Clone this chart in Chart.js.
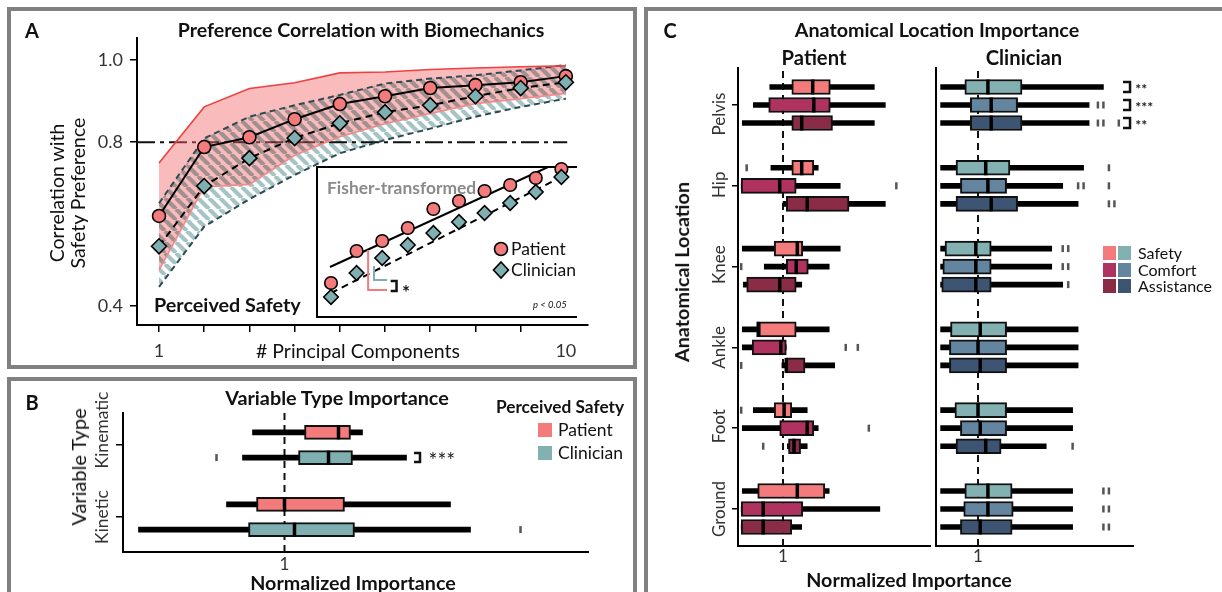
<!DOCTYPE html>
<html>
<head>
<meta charset="utf-8">
<script src="https://cdn.jsdelivr.net/npm/chart.js@4.4.1/dist/chart.umd.min.js"></script>
<style>
  html, body { margin: 0; padding: 0; background: #fff; }
  #page { position: relative; width: 1222px; height: 592px; overflow: hidden; font-family: Lato, sans-serif; color: #111; }
  #page canvas { position: absolute; left: 0; top: 0; }
  .frame { position: absolute; border: 4px solid #808080; box-sizing: border-box; }
  .t { position: absolute; white-space: nowrap; line-height: 1; transform: translate(-50%, -50%); }
  .tl { transform: translate(0, -50%); }
  .rot { transform: translate(-50%, -50%) rotate(-90deg); }
  .b { font-weight: 700; }
  .i { font-style: italic; }
  .sw { position: absolute; }
</style>
</head>
<body>
<div id="page">
  <div class="frame" style="left:7px;top:7px;width:630px;height:362px"></div>
  <div class="frame" style="left:7px;top:377px;width:630px;height:260px"></div>
  <div class="frame" style="left:644px;top:7px;width:600px;height:620px"></div>

  <div id="labels">
    <!-- panel A -->
    <div class="t b" style="left:32px;top:30px;font-size:20px">A</div>
    <div class="t b" style="left:361px;top:30px;font-size:19.6px">Preference Correlation with Biomechanics</div>
    <div class="t rot" style="left:57px;top:193px;font-size:19.5px">Correlation with</div>
    <div class="t rot" style="left:78px;top:193px;font-size:19.5px">Safety Preference</div>
    <div class="t" style="left:358px;top:351px;font-size:19.5px"># Principal Components</div>
    <div class="t tl b" style="left:154px;top:305px;font-size:19.8px">Perceived Safety</div>
    <div class="t tl b" style="left:327px;top:188px;font-size:17.4px;color:#8a8a8a">Fisher-transformed</div>
    <div class="t tl" style="left:511px;top:249px;font-size:17.5px">Patient</div>
    <div class="t tl" style="left:511px;top:270px;font-size:17.5px">Clinician</div>
    <div class="t tl i" style="left:533px;top:305px;font-size:9.5px">p &lt; 0.05</div>
    <div class="t b" style="left:406px;top:291px;font-size:19px">*</div>

    <!-- panel B -->
    <div class="t b" style="left:32px;top:402px;font-size:20px">B</div>
    <div class="t b" style="left:337px;top:398px;font-size:19.8px">Variable Type Importance</div>
    <div class="t rot" style="left:78px;top:467px;font-size:20px">Variable Type</div>
    <div class="t b" style="left:353px;top:583px;font-size:19.7px">Normalized Importance</div>
    <div class="t b" style="left:560px;top:407px;font-size:17.3px">Perceived Safety</div>
    <div class="sw" style="left:538px;top:423px;width:14px;height:14px;background:#F47B7B"></div>
    <div class="sw" style="left:538px;top:446px;width:14px;height:14px;background:#83B1B2"></div>
    <div class="t tl" style="left:558px;top:430px;font-size:17.5px">Patient</div>
    <div class="t tl" style="left:558px;top:453px;font-size:17.5px">Clinician</div>

    <!-- panel C -->
    <div class="t b" style="left:670px;top:30px;font-size:20px">C</div>
    <div class="t b" style="left:937px;top:30px;font-size:19.7px">Anatomical Location Importance</div>
    <div class="t b" style="left:814px;top:57px;font-size:20.2px">Patient</div>
    <div class="t b" style="left:1024px;top:57px;font-size:20.2px">Clinician</div>
    <div class="t rot b" style="left:682px;top:272px;font-size:19.8px">Anatomical Location</div>
    <div class="t b" style="left:909px;top:580px;font-size:19.7px">Normalized Importance</div>
    <div class="sw" style="left:1103px;top:246px;width:13px;height:14px;background:#F47B7B"></div>
    <div class="sw" style="left:1118px;top:246px;width:13px;height:14px;background:#83B1B2"></div>
    <div class="sw" style="left:1103px;top:263px;width:13px;height:14px;background:#B0325F"></div>
    <div class="sw" style="left:1118px;top:263px;width:13px;height:14px;background:#6385A0"></div>
    <div class="sw" style="left:1103px;top:279px;width:13px;height:14px;background:#8B2C47"></div>
    <div class="sw" style="left:1118px;top:279px;width:13px;height:14px;background:#3D5573"></div>
    <div class="t tl" style="left:1138px;top:253px;font-size:16px">Safety</div>
    <div class="t tl" style="left:1138px;top:270px;font-size:16px">Comfort</div>
    <div class="t tl" style="left:1138px;top:286px;font-size:16px">Assistance</div>
  </div>
</div>

<script>
// ---------- panel A: correlation vs number of principal components ----------
const PCS = [1, 2, 3, 4, 5, 6, 7, 8, 9, 10];
const patientCorr      = [0.620, 0.788, 0.812, 0.856, 0.893, 0.912, 0.932, 0.939, 0.946, 0.961];
const clinicianCorr    = [0.546, 0.693, 0.761, 0.810, 0.846, 0.873, 0.890, 0.912, 0.932, 0.946];
const patientCorrHigh  = [0.749, 0.886, 0.931, 0.945, 0.969, 0.971, 0.977, 0.981, 0.984, 0.986];
const patientCorrLow   = [0.488, 0.691, 0.697, 0.768, 0.813, 0.845, 0.870, 0.894, 0.906, 0.919];
const clinicianCorrHigh = [0.651, 0.809, 0.862, 0.890, 0.915, 0.943, 0.955, 0.963, 0.975, 0.988];
const clinicianCorrLow  = [0.447, 0.594, 0.661, 0.720, 0.773, 0.805, 0.833, 0.862, 0.886, 0.906];
const corrTicks = [0.4, 0.8, 1.0];
const corrLabelTicks = [1, 10];
const SAFETY_LEVEL = 0.8;
const SAFETY_LINE_END = 10.03;

// inset: Fisher-transformed correlations and fitted lines
const fisherPatient   = [0.84, 1.16, 1.26, 1.39, 1.58, 1.66, 1.76, 1.82, 1.89, 1.98];
const fisherClinician = [0.70, 0.94, 1.09, 1.22, 1.34, 1.45, 1.54, 1.64, 1.75, 1.90];
const fitPatientX = [0.96, 9.48],  fitPatientY = [1.00, 2.00];
const fitClinicianX = [1.0, 10.0], fitClinicianY = [0.74, 1.90];

// ---------- panel B: variable type importance ----------
const VAR_TYPES = ['Kinematic', 'Kinetic'];
const typeRowGroup = ['Patient', 'Clinician', 'Patient', 'Clinician'];
const typeLow  = [0.84, 0.79, 0.71, 0.27];
const typeQ1   = [1.10, 1.07, 0.86, 0.82];
const typeMed  = [1.27, 1.22, 1.00, 1.05];
const typeQ3   = [1.33, 1.34, 1.30, 1.35];
const typeHigh = [1.39, 1.61, 1.83, 1.93];
const typeOut  = [[], [0.66], [], [2.18]];

// ---------- panel C: anatomical location importance ----------
const LOCATIONS = ['Pelvis', 'Hip', 'Knee', 'Ankle', 'Foot', 'Ground'];
const MEASURES = ['Safety', 'Comfort', 'Assistance'];
// rows: location by location, Safety / Comfort / Assistance
const patLow  = [0.88, 0.73, 0.63,  0.89, 0.62, 1.00,  0.63, 0.83, 0.64,  0.63, 0.63, 0.99,  0.73, 0.63, 1.04,  0.63, 0.62, 0.62];
const patQ1   = [1.08, 0.87, 1.08,  1.08, 0.62, 1.03,  0.92, 1.03, 0.67,  0.76, 0.72, 1.03,  0.92, 0.97, 1.05,  0.77, 0.62, 0.62];
const patMed  = [1.27, 1.28, 1.17,  1.17, 0.97, 1.22,  1.13, 1.12, 0.97,  0.78, 0.98, 1.03,  1.01, 1.22, 1.10,  1.13, 0.82, 0.82];
const patQ3   = [1.43, 1.43, 1.45,  1.28, 1.12, 1.60,  1.18, 1.23, 1.12,  1.12, 1.03, 1.20,  1.08, 1.28, 1.16,  1.38, 1.18, 1.08];
const patHigh = [1.83, 1.93, 1.83,  1.32, 1.52, 1.93,  1.52, 1.42, 1.17,  1.42, 1.03, 1.47,  1.22, 1.32, 1.22,  1.42, 1.88, 1.17];
const patOut  = [[], [], [],  [0.67], [2.03], [],  [], [0.62], [],  [], [1.57, 1.68], [0.62],  [0.62], [1.78], [0.82],  [], [], []];

const clinLow  = [0.66, 0.66, 0.66,  0.66, 0.66, 0.66,  0.66, 0.66, 0.66,  0.66, 0.66, 0.66,  0.66, 0.66, 0.66,  0.66, 0.66, 0.66];
const clinQ1   = [0.88, 0.93, 0.93,  0.80, 0.84, 0.80,  0.70, 0.68, 0.67,  0.75, 0.74, 0.74,  0.79, 0.84, 0.80,  0.88, 0.87, 0.84];
const clinMed  = [1.09, 1.12, 1.12,  1.07, 1.09, 1.12,  0.98, 0.98, 0.98,  1.02, 1.00, 1.02,  1.00, 1.02, 1.07,  1.09, 1.09, 1.02];
const clinQ3   = [1.40, 1.36, 1.40,  1.29, 1.26, 1.36,  1.12, 1.12, 1.12,  1.26, 1.26, 1.26,  1.26, 1.26, 1.21,  1.31, 1.32, 1.31];
const clinHigh = [2.14, 2.01, 2.01,  1.96, 1.77, 1.91,  1.67, 1.67, 1.77,  1.91, 1.91, 1.91,  1.86, 1.86, 1.62,  1.86, 1.86, 1.86];
const clinOut  = [[], [2.09, 2.14], [2.09, 2.14, 2.28],  [2.19], [1.91, 1.96, 2.19], [2.19, 2.24],
                  [1.77, 1.82], [1.77, 1.82], [1.82],  [], [], [],  [], [], [1.86],
                  [2.14, 2.19], [2.14, 2.19], [2.14, 2.19]];
const clinSignif = ['**', '***', '**'];   // Pelvis rows, patient vs clinician

const PAT_COLORS  = ['#F47B7B', '#B0325F', '#8B2C47'];
const CLIN_COLORS = ['#83B1B2', '#6385A0', '#3D5573'];
const C_PAT = '#F47B7B', C_CLIN = '#80AFB1';
const REF_IMPORTANCE = 1;

// ---------- helpers ----------
const W = 1222, H = 592;
Chart.defaults.font.family = 'Lato, sans-serif';
const page = document.getElementById('page');
const labelLayer = document.getElementById('labels');

function makeCanvas() {
  const c = document.createElement('canvas');
  c.width = W; c.height = H;
  page.insertBefore(c, labelLayer);
  return c;
}
function xy(xs, ys) { return xs.map((x, i) => ({ x, y: ys[i] })); }
function fixAxis(size) {
  return s => {
    if (s.isHorizontal()) s.height = size; else s.width = size;
    s.paddingLeft = s.paddingRight = s.paddingTop = s.paddingBottom = 0;
  };
}
function baseOptions(area, yW, xH) {
  return {
    responsive: false, animation: false, devicePixelRatio: 1, events: [],
    layout: { padding: { left: area.x1 - yW, top: area.y1, right: W - area.x2, bottom: H - area.y2 - xH } },
    plugins: { legend: { display: false }, tooltip: { enabled: false } }
  };
}
const axisLine = { display: true, color: '#000', width: 2 };
const tickFont = { size: 17 };

// rotated category labels beside a y axis
const rotatedYLabels = {
  id: 'rotatedYLabels',
  afterDraw(chart, args, o) {
    const ctx = chart.ctx, ys = chart.scales.y;
    ctx.save();
    ctx.font = o.font; ctx.fillStyle = '#333';
    ctx.textAlign = 'center'; ctx.textBaseline = 'middle';
    o.labels.forEach((t, i) => {
      ctx.save();
      ctx.translate(o.x, ys.getPixelForValue(o.values[i]) + o.shift[i]);
      ctx.rotate(-Math.PI / 2);
      ctx.fillText(t, 0, 0);
      ctx.restore();
    });
    ctx.restore();
  }
};

// significance brackets "]" with stars
const sigBrackets = {
  id: 'sigBrackets',
  afterDraw(chart, args, o) {
    const ctx = chart.ctx, xs = chart.scales.x, ys = chart.scales.y;
    ctx.save();
    ctx.strokeStyle = '#111'; ctx.lineWidth = 2.5; ctx.fillStyle = '#222';
    ctx.font = o.font; ctx.textAlign = 'left'; ctx.textBaseline = 'middle';
    o.items.forEach(b => {
      const x1 = xs.getPixelForValue(b.x1), x2 = xs.getPixelForValue(b.x2), y = ys.getPixelForValue(b.y);
      ctx.beginPath();
      ctx.moveTo(x1, y - b.h); ctx.lineTo(x2, y - b.h); ctx.lineTo(x2, y + b.h); ctx.lineTo(x1, y + b.h);
      ctx.stroke();
      ctx.fillText(b.label, xs.getPixelForValue(b.xText), y + o.textDy);
    });
    ctx.restore();
  }
};

function boxplotDatasets(pos, lo, q1, med, q3, hi, out, colors, boxH, yRange) {
  const rows = pos.map((p, i) => i);
  return [
    { type: 'scatter', showLine: true, data: [{ x: REF_IMPORTANCE, y: yRange[0] }, { x: REF_IMPORTANCE, y: yRange[1] }],
      borderColor: '#111', borderWidth: 2, borderDash: [7, 5], pointRadius: 0, order: 5 },
    { type: 'bar', data: rows.map(i => ({ y: pos[i], x: [lo[i], hi[i]] })), backgroundColor: '#000',
      borderWidth: 0, barThickness: 5, grouped: false, order: 4 },
    { type: 'bar', data: rows.map(i => ({ y: pos[i], x: [q1[i], q3[i]] })), backgroundColor: colors,
      borderColor: '#111', borderWidth: 2, borderSkipped: false, barThickness: boxH, grouped: false, order: 3 },
    { type: 'scatter', data: rows.map(i => ({ x: med[i], y: pos[i] })), pointStyle: 'line', pointRotation: 90,
      pointRadius: boxH / 2, pointBorderColor: '#000', pointBorderWidth: 3.5, order: 2 },
    { type: 'scatter', data: rows.flatMap(i => out[i].map(v => ({ x: v, y: pos[i] }))), pointStyle: 'line',
      pointRotation: 90, pointRadius: 3.5, pointBorderColor: '#555', pointBorderWidth: 2.5, order: 1 }
  ];
}

// ---------- panel A main chart ----------
const areaA = { x1: 137, x2: 588, y1: 38, y2: 325 };
const X_A = [0.513, 10.49], Y_A = [0.354, 1.054];

function stripeTile() {
  const s = 11, c = document.createElement('canvas');
  c.width = s; c.height = s;
  const g = c.getContext('2d');
  g.strokeStyle = '#A6C4C6'; g.lineWidth = 4.2;
  g.beginPath();
  [-1, 0, 1].forEach(k => { g.moveTo(k * s, 0); g.lineTo(k * s + s, s); });
  g.stroke();
  return c;
}
const bandFill = {
  id: 'bandFill',
  afterDatasetDraw(chart, args) {
    if (args.index !== 4) return; // right after the 0.8 reference line
    const ctx = chart.ctx;
    const poly = (ui, li) => {
      const up = chart.getDatasetMeta(ui).data, lo = chart.getDatasetMeta(li).data;
      ctx.beginPath();
      up.forEach((p, i) => i ? ctx.lineTo(p.x, p.y) : ctx.moveTo(p.x, p.y));
      for (let i = lo.length - 1; i >= 0; i--) ctx.lineTo(lo[i].x, lo[i].y);
      ctx.closePath();
    };
    ctx.save();
    poly(0, 1);
    ctx.fillStyle = 'rgba(241,104,104,0.45)';
    ctx.fill();
    poly(2, 3);
    ctx.globalCompositeOperation = 'multiply';
    ctx.fillStyle = ctx.createPattern(stripeTile(), 'repeat');
    ctx.fill();
    ctx.restore();
  }
};

new Chart(makeCanvas(), {
  type: 'line',
  data: {
    datasets: [
      { data: xy(PCS, patientCorrHigh), borderColor: '#EF4141', borderWidth: 1.6, pointRadius: 0, order: 5 },
      { data: xy(PCS, patientCorrLow), borderColor: '#F28A8A', borderWidth: 1.6, pointRadius: 0, order: 5 },
      { data: xy(PCS, clinicianCorrHigh), borderColor: '#2E4B52', borderWidth: 2, borderDash: [6, 4], pointRadius: 0, order: 5 },
      { data: xy(PCS, clinicianCorrLow), borderColor: '#2E4B52', borderWidth: 2, borderDash: [6, 4], pointRadius: 0, order: 5 },
      { data: [{ x: X_A[0], y: SAFETY_LEVEL }, { x: SAFETY_LINE_END, y: SAFETY_LEVEL }], borderColor: '#111',
        borderWidth: 2, borderDash: [18, 5, 4, 5], pointRadius: 0, order: 10 },
      { data: xy(PCS, patientCorr), borderColor: '#000', borderWidth: 2, pointStyle: 'circle', pointRadius: 6.5,
        pointBackgroundColor: C_PAT, pointBorderColor: '#000', pointBorderWidth: 1.6, order: 2, clip: false },
      { data: xy(PCS, clinicianCorr), borderColor: '#000', borderWidth: 2, borderDash: [7, 5], pointStyle: 'rectRot',
        pointRadius: 7.5, pointBackgroundColor: C_CLIN, pointBorderColor: '#000', pointBorderWidth: 1.6, order: 1, clip: false }
    ]
  },
  options: Object.assign(baseOptions(areaA, 40, 40), {
    scales: {
      x: {
        type: 'linear', min: X_A[0], max: X_A[1], afterFit: fixAxis(40),
        afterBuildTicks: s => { s.ticks = PCS.map(v => ({ value: v })); },
        ticks: { callback: v => corrLabelTicks.includes(v) ? String(v) : '', autoSkip: false, maxRotation: 0,
                 padding: 8, color: '#333', font: { size: 18 } },
        grid: { display: true, drawOnChartArea: false, tickLength: 7, lineWidth: 1.5,
                color: c => (c.tick && c.tick.value === 10) ? 'rgba(0,0,0,0)' : '#000' },
        border: axisLine
      },
      y: {
        type: 'linear', min: Y_A[0], max: Y_A[1], afterFit: fixAxis(40),
        afterBuildTicks: s => { s.ticks = corrTicks.map(v => ({ value: v })); },
        ticks: { callback: v => v.toFixed(1), padding: 7, color: '#333', font: { size: 18 } },
        grid: { display: true, drawOnChartArea: false, tickLength: 7, lineWidth: 1.5, color: '#000' },
        border: axisLine
      }
    }
  }),
  plugins: [bandFill]
});

// ---------- panel A inset ----------
const areaInset = { x1: 317, x2: 577, y1: 167, y2: 317 };
const X_IN = [0.453, 10.61], Y_IN = [0.5, 2.0];
const insetDecor = {
  id: 'insetDecor',
  beforeDraw(chart) {
    const { ctx, chartArea: a } = chart;
    ctx.save();
    ctx.fillStyle = '#fff';
    ctx.fillRect(a.left, a.top, a.width, a.height);
    ctx.strokeStyle = '#000'; ctx.lineWidth = 2;
    ctx.beginPath();
    ctx.moveTo(a.right, a.top); ctx.lineTo(a.left, a.top); ctx.lineTo(a.left, a.bottom); ctx.lineTo(a.right, a.bottom);
    ctx.stroke();
    ctx.restore();
  },
  afterDraw(chart) {
    const ctx = chart.ctx, xs = chart.scales.x, ys = chart.scales.y;
    const X = v => xs.getPixelForValue(v), Y = v => ys.getPixelForValue(v);
    ctx.save();
    ctx.lineWidth = 2;
    // intercept offsets
    ctx.strokeStyle = C_PAT;
    ctx.beginPath(); ctx.moveTo(X(2.45), Y(1.17)); ctx.lineTo(X(2.45), Y(0.77)); ctx.lineTo(X(3.19), Y(0.77)); ctx.stroke();
    ctx.strokeStyle = C_CLIN;
    ctx.beginPath(); ctx.moveTo(X(2.68), Y(1.01)); ctx.lineTo(X(2.68), Y(0.87)); ctx.lineTo(X(3.19), Y(0.87)); ctx.stroke();
    ctx.strokeStyle = '#111'; ctx.lineWidth = 2.5;
    ctx.beginPath(); ctx.moveTo(X(3.33), Y(0.86)); ctx.lineTo(X(3.56), Y(0.86)); ctx.lineTo(X(3.56), Y(0.76)); ctx.lineTo(X(3.33), Y(0.76)); ctx.stroke();
    // legend keys
    ctx.lineWidth = 1.6; ctx.strokeStyle = '#000';
    ctx.fillStyle = C_PAT;
    ctx.beginPath(); ctx.arc(501, 249, 6.5, 0, Math.PI * 2); ctx.fill(); ctx.stroke();
    ctx.fillStyle = C_CLIN;
    ctx.beginPath(); ctx.moveTo(501, 262); ctx.lineTo(508.5, 270); ctx.lineTo(501, 278); ctx.lineTo(493.5, 270); ctx.closePath();
    ctx.fill(); ctx.stroke();
    ctx.restore();
  }
};
new Chart(makeCanvas(), {
  type: 'scatter',
  data: {
    datasets: [
      { data: xy(fitPatientX, fitPatientY), showLine: true, borderColor: '#000', borderWidth: 2, pointRadius: 0, order: 4 },
      { data: xy(fitClinicianX, fitClinicianY), showLine: true, borderColor: '#000', borderWidth: 2, borderDash: [7, 5], pointRadius: 0, order: 3 },
      { data: xy(PCS, fisherPatient), pointStyle: 'circle', pointRadius: 6.3, pointBackgroundColor: C_PAT,
        pointBorderColor: '#000', pointBorderWidth: 1.6, order: 2, clip: false },
      { data: xy(PCS, fisherClinician), pointStyle: 'rectRot', pointRadius: 7.3, pointBackgroundColor: C_CLIN,
        pointBorderColor: '#000', pointBorderWidth: 1.6, order: 1, clip: false }
    ]
  },
  options: Object.assign(baseOptions(areaInset, 0, 0), {
    scales: {
      x: { type: 'linear', display: false, min: X_IN[0], max: X_IN[1] },
      y: { type: 'linear', display: false, min: Y_IN[0], max: Y_IN[1] }
    }
  }),
  plugins: [insetDecor]
});

// ---------- panel B ----------
const areaB = { x1: 123, x2: 588, y1: 413, y2: 552 };
const X_B = [0.1925, 2.5175], Y_B = [0.514, 2.444];
const typePos = [2 + 0.175, 2 - 0.175, 1 + 0.175, 1 - 0.175];
const typeColors = typeRowGroup.map(g => g === 'Patient' ? C_PAT : C_CLIN);
new Chart(makeCanvas(), {
  type: 'bar',
  data: { datasets: boxplotDatasets(typePos, typeLow, typeQ1, typeMed, typeQ3, typeHigh, typeOut, typeColors, 14, Y_B) },
  options: Object.assign(baseOptions(areaB, 20, 25), {
    indexAxis: 'y',
    scales: {
      x: {
        type: 'linear', min: X_B[0], max: X_B[1], beginAtZero: false, afterFit: fixAxis(25),
        afterBuildTicks: s => { s.ticks = [{ value: REF_IMPORTANCE }]; },
        ticks: { callback: v => String(v), padding: 2, color: '#333', font: tickFont },
        grid: { display: false, drawTicks: false }, border: axisLine
      },
      y: {
        type: 'linear', min: Y_B[0], max: Y_B[1], offset: false, afterFit: fixAxis(20),
        afterBuildTicks: s => { s.ticks = [{ value: 2 }, { value: 1 }]; },
        ticks: { display: false },
        grid: { display: true, offset: false, drawOnChartArea: false, tickLength: 7, lineWidth: 1.5, color: '#000' },
        border: axisLine
      }
    },
    plugins: {
      legend: { display: false }, tooltip: { enabled: false },
      rotatedYLabels: { labels: VAR_TYPES, values: [2, 1], x: 102, shift: [-15, 0], font: '17.5px Lato' },
      sigBrackets: { font: '21px Lato', textDy: 4,
        items: [{ x1: 1.6475, x2: 1.6775, y: typePos[1], h: 4.5, xText: 1.72, label: '***' }] }
    }
  }),
  plugins: [rotatedYLabels, sigBrackets]
});

// ---------- panel C ----------
const ROW_OFFSET = [0.223, 0, -0.223];
const locPos = [], locColorIdx = [];
LOCATIONS.forEach((loc, li) => MEASURES.forEach((m, mi) => {
  locPos.push(LOCATIONS.length - li + ROW_OFFSET[mi]);
  locColorIdx.push(mi);
}));
const Y_C = [0.542, 6.458];
const locTickValues = LOCATIONS.map((l, li) => LOCATIONS.length - li);

function panelCOptions(area, xRange, yW, withTicks, extraPlugins) {
  return Object.assign(baseOptions(area, yW, 25), {
    indexAxis: 'y',
    scales: {
      x: {
        type: 'linear', min: xRange[0], max: xRange[1], beginAtZero: false, afterFit: fixAxis(25),
        afterBuildTicks: s => { s.ticks = [{ value: REF_IMPORTANCE }]; },
        ticks: { callback: v => String(v), padding: 0, color: '#333', font: tickFont },
        grid: { display: false, drawTicks: false }, border: axisLine
      },
      y: {
        type: 'linear', min: Y_C[0], max: Y_C[1], offset: false, afterFit: fixAxis(yW),
        afterBuildTicks: s => { s.ticks = locTickValues.map(v => ({ value: v })); },
        ticks: { display: false },
        grid: { display: withTicks, offset: false, drawOnChartArea: false, tickLength: 6, lineWidth: 1.5, color: '#000' },
        border: axisLine
      }
    },
    plugins: Object.assign({ legend: { display: false }, tooltip: { enabled: false } }, extraPlugins)
  });
}

new Chart(makeCanvas(), {
  type: 'bar',
  data: { datasets: boxplotDatasets(locPos, patLow, patQ1, patMed, patQ3, patHigh, patOut,
                                    locColorIdx.map(i => PAT_COLORS[i]), 15, Y_C) },
  options: panelCOptions({ x1: 738, x2: 930, y1: 68, y2: 546 }, [0.591, 2.336], 20, true, {
    rotatedYLabels: { labels: LOCATIONS, values: locTickValues, x: 720, shift: [9, -1, -2, 0, -2, 0], font: '17px Lato' }
  }),
  plugins: [rotatedYLabels]
});

new Chart(makeCanvas(), {
  type: 'bar',
  data: { datasets: boxplotDatasets(locPos, clinLow, clinQ1, clinMed, clinQ3, clinHigh, clinOut,
                                    locColorIdx.map(i => CLIN_COLORS[i]), 15, Y_C) },
  options: panelCOptions({ x1: 936, x2: 1133, y1: 68, y2: 546 }, [0.618, 2.409], 10, false, {
    sigBrackets: { font: 'bold 14px Lato', textDy: 2,
      items: clinSignif.map((s, mi) => ({ x1: 2.318, x2: 2.382, y: locPos[mi], h: 5, xText: 2.43, label: s })) }
  }),
  plugins: [sigBrackets]
});
</script>
</body>
</html>
